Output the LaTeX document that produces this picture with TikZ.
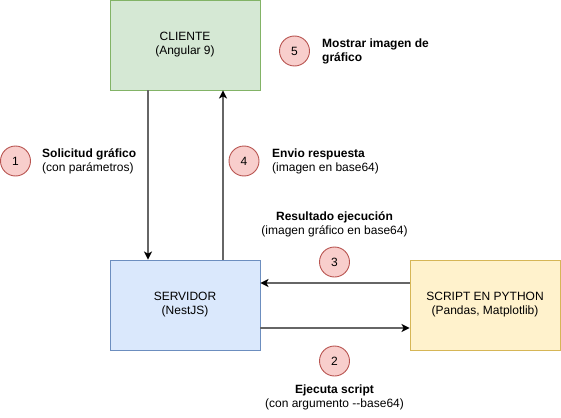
\documentclass[tikz,border=0pt]{standalone}
\usepackage{fontspec}
\setmainfont{Liberation Sans}
\usepackage{tikz}
\usetikzlibrary{arrows.meta,positioning}

\definecolor{greenfill}{HTML}{D5E8D4}
\definecolor{greenline}{HTML}{82B366}
\definecolor{bluefill}{HTML}{DAE8FC}
\definecolor{blueline}{HTML}{6C8EBF}
\definecolor{yellowfill}{HTML}{FFF2CC}
\definecolor{yellowline}{HTML}{D6B656}
\definecolor{redfill}{HTML}{F8CECC}
\definecolor{redline}{HTML}{B85450}
\definecolor{flowgray}{HTML}{666666}

\begin{document}
\begin{tikzpicture}[x=1pt, y=-1pt,
    font=\fontsize{12}{14}\selectfont,
    block/.style={rectangle, draw, minimum width=150pt, minimum height=90pt,
                  align=center, inner sep=0pt, line width=0.9pt},
    stepnum/.style={circle, draw=redline, fill=redfill, minimum size=30pt,
                    inner sep=0pt, line width=0.9pt},
    note/.style={align=left, anchor=west, inner sep=0pt},
    flow/.style={draw=flowgray, line width=1.6pt,
                 -{Stealth[length=8pt, width=8pt, inset=2pt, black]}}
]
    \useasboundingbox (0,0) rectangle (561,417);

    % Main components
    \node[block, fill=greenfill, draw=greenline] (cliente) at (185,45)
        {CLIENTE\\(Angular 9)};
    \node[block, fill=bluefill, draw=blueline] (servidor) at (185,305)
        {SERVIDOR\\(NestJS)};
    \node[block, fill=yellowfill, draw=yellowline] (script) at (485,305)
        {SCRIPT EN PYTHON\\(Pandas, Matplotlib)};

    % Connectors
    \draw[flow] (cliente.south -| 148,0) -- (servidor.north -| 148,0);
    \draw[flow] (servidor.north -| 223,0) -- (cliente.south -| 223,0);
    \draw[flow] (servidor.east |- 0,328) -- (script.west |- 0,328);
    \draw[flow] (script.west |- 0,283) -- (servidor.east |- 0,283);

    % Step numbers
    \node[stepnum] (n1) at (15.5,161) {1};
    \node[stepnum] (n2) at (334.5,361) {2};
    \node[stepnum] (n3) at (334.5,262) {3};
    \node[stepnum] (n4) at (244,161) {4};
    \node[stepnum] (n5) at (294.5,51) {5};

    % Step labels
    \node[note] (l1) at (42,161) {\textbf{Solicitud gráfico}\\(con parámetros)};
    \node[note] (l4) at (272,161) {\textbf{Envio respuesta}\\(imagen en base64)};
    \node[note] (l5) at (322,51) {\textbf{Mostrar imagen de}\\\textbf{gráfico}};
    \node[align=center, inner sep=0pt] (l3) at (334.5,224)
        {\textbf{Resultado ejecución}\\(imagen gráfico en base64)};
    \node[align=center, inner sep=0pt] (l2) at (334.5,397)
        {\textbf{Ejecuta script}\\(con argumento -{}-base64)};
\end{tikzpicture}
\end{document}
